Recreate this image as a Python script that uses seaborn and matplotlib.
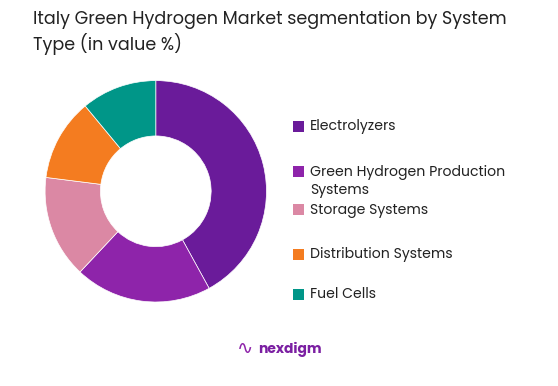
import matplotlib
matplotlib.use("Agg")
import matplotlib.pyplot as plt
import seaborn as sns
from matplotlib.patches import Rectangle

# segment shares (in value %)
segments = ["Electrolyzers", "Green Hydrogen Production\nSystems", "Storage Systems",
            "Distribution Systems", "Fuel Cells"]
shares = [42, 20, 15, 12, 11]
colors = ["#6A1B9A", "#8E24AA", "#DB88A4", "#F47C20", "#009688"]

sns.set_theme(style="white")
plt.rcParams['font.family'] = ['Poppins', 'Lato', 'DejaVu Sans']

palette = sns.color_palette(colors)

fig = plt.figure(figsize=(5.58, 3.86), dpi=100)
fig.patch.set_facecolor("white")


def fy(px):
    return 1 - px / 386


# donut
ax = fig.add_axes([0.0808, 0.2176, 0.3968, 0.5736])
ax.pie(shares, colors=palette, startangle=90, counterclock=False, radius=1.0,
       wedgeprops=dict(width=0.5, edgecolor="white", linewidth=0.5))
ax.set_xlim(-1, 1)
ax.set_ylim(-1, 1)
ax.set_aspect("equal")
ax.axis("off")

# title, one line at a time
fig.text(33 / 558, fy(20), "Italy Green Hydrogen Market segmentation by System",
         fontsize=12.6, color="#222222", va="center", ha="left")
fig.text(33 / 558, fy(44), "Type (in value %)",
         fontsize=12.6, color="#222222", va="center", ha="left")

# legend, placed by hand to keep the original's uneven spacing
legend_y = [127, 172, 210, 255, 295]
for label, col, y in zip(segments, palette, legend_y):
    fig.patches.append(Rectangle((293 / 558, fy(y + 5)), 11 / 558, 11 / 386,
                                 transform=fig.transFigure, facecolor=col, edgecolor="none"))
    lines = label.split("\n")
    for i, line in enumerate(lines):
        fig.text(310 / 558, fy(y + 18 * i), line, fontsize=10.1, color="#222222",
                 va="center", ha="left")

# logo
fig.text(237 / 558, fy(349), "\u223f", fontsize=14, color="#8E24AA", va="center", ha="left")
fig.text(258 / 558, fy(349), "nexdigm", fontsize=10, color="#7B1FA2", va="center",
         ha="left", fontweight="bold")

fig.savefig("out.png", dpi=100, facecolor="white")
